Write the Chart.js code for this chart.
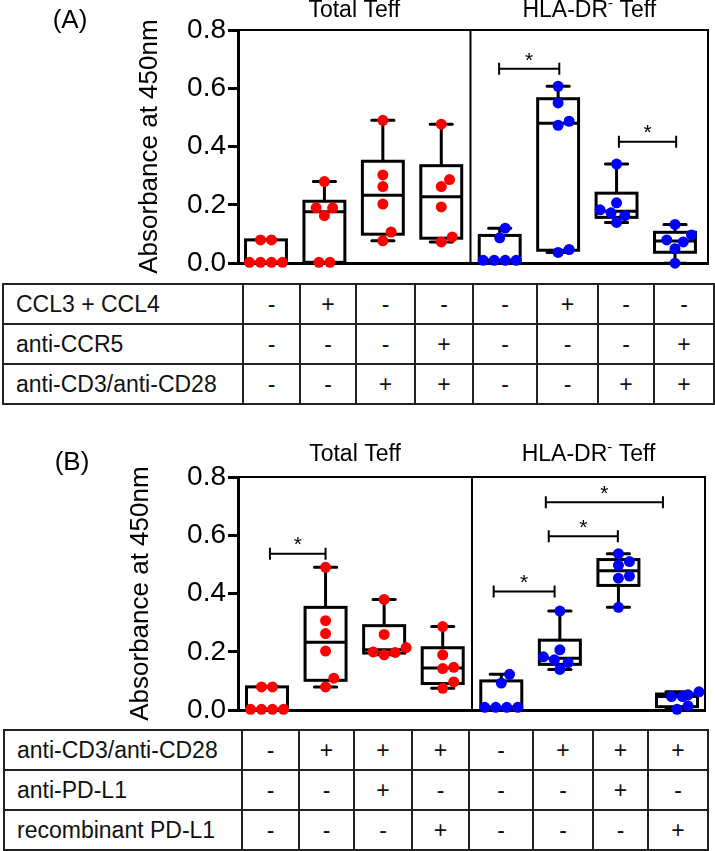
<!DOCTYPE html>
<html>
<head>
<meta charset="utf-8">
<script src="https://cdn.jsdelivr.net/npm/chart.js@4.4.0/dist/chart.umd.min.js"></script>
<style>
  body { margin: 0; background: #fff; width: 715px; height: 851px; position: relative; overflow: hidden;
         font-family: "Liberation Sans", Arial, sans-serif; }
  canvas { position: absolute; left: 0; }
  table { position: absolute; border-collapse: collapse; table-layout: fixed; font-size: 23px; color: #111; }
  td { border: 2px solid #222; height: 38px; padding: 0; text-align: center; }
  td.lab { text-align: left; padding-left: 12px; white-space: nowrap; }
</style>
</head>
<body>
<canvas id="chartA" width="715" height="282" style="top:0"></canvas>
<table id="tableA" style="left:2px;top:283px"></table>
<canvas id="chartB" width="715" height="289" style="top:440px"></canvas>
<table id="tableB" style="left:3px;top:729px"></table>
<script>
// Axis and group labels
const yTitle = 'Absorbance at 450nm';
const yTicks = [0, 0.2, 0.4, 0.6, 0.8];
const cellGroups = ['Total Teff', 'HLA-DR'];

// Panel A: absorbance per well, 8 conditions x 6 donors
const conditionsA = ['CCL3 + CCL4', 'anti-CCR5', 'anti-CD3/anti-CD28'];
const signsA = [
  ['-', '+', '-', '-', '-', '+', '-', '-'],
  ['-', '-', '-', '+', '-', '-', '-', '+'],
  ['-', '-', '+', '+', '-', '-', '+', '+']
];
const valuesA = [
  [0.08, 0.08, 0.003, 0.003, 0.003, 0.003],
  [0.28, 0.19, 0.19, 0.163, 0.003, 0.003],
  [0.49, 0.303, 0.263, 0.203, 0.107, 0.077],
  [0.477, 0.287, 0.263, 0.193, 0.09, 0.073],
  [0.12, 0.087, 0.01, 0.01, 0.01, 0.01],
  [0.607, 0.55, 0.487, 0.473, 0.047, 0.037],
  [0.34, 0.207, 0.183, 0.173, 0.163, 0.14],
  [0.133, 0.097, 0.08, 0.073, 0.05, 0.0]
];
// significance bars: [from, to, height]
const sigA = [[4.99, 6.02, 0.667], [7.04, 8.02, 0.417]];

// Panel B
const conditionsB = ['anti-CD3/anti-CD28', 'anti-PD-L1', 'recombinant PD-L1'];
const signsB = [
  ['-', '+', '+', '+', '-', '+', '+', '+'],
  ['-', '-', '+', '-', '-', '-', '+', '-'],
  ['-', '-', '-', '+', '-', '-', '-', '+']
];
const valuesB = [
  [0.08, 0.08, 0.003, 0.003, 0.003, 0.003],
  [0.49, 0.307, 0.263, 0.203, 0.11, 0.08],
  [0.38, 0.26, 0.215, 0.2, 0.198, 0.19],
  [0.287, 0.19, 0.147, 0.143, 0.097, 0.075],
  [0.123, 0.093, 0.01, 0.01, 0.01, 0.01],
  [0.34, 0.207, 0.183, 0.173, 0.163, 0.14],
  [0.537, 0.51, 0.497, 0.46, 0.453, 0.353],
  [0.063, 0.053, 0.047, 0.047, 0.015, 0.003]
];
const sigB = [[1.05, 2.0, 0.537], [4.87, 5.91, 0.407], [5.81, 6.99, 0.597], [5.76, 7.76, 0.713]];

const FONT = '"Liberation Sans", Arial, sans-serif';
const dotRadius = 5.5;
const boxWidth = 0.7;
const capWidth = 0.38;

// quartiles the GraphPad way (n+1 positions)
function quantile(sorted, p) {
  const n = sorted.length;
  const pos = p * (n + 1);
  if (pos <= 1) return sorted[0];
  if (pos >= n) return sorted[n - 1];
  const lo = Math.floor(pos);
  return sorted[lo - 1] + (pos - lo) * (sorted[lo] - sorted[lo - 1]);
}

// spread points sideways so they don't overlap (simple beeswarm)
function swarmOffsets(vals, yScale, pxPerUnit) {
  const step = dotRadius / 2;
  const placed = [];
  const offs = vals.map(() => 0);
  const order = vals.map((v, i) => i).sort((a, b) => vals[a] - vals[b]);
  order.forEach(i => {
    const py = yScale.getPixelForValue(vals[i]);
    for (let k = 0; k < 60; k++) {
      const c = (k % 2 ? 1 : -1) * Math.ceil(k / 2) * step;
      if (placed.every(p => Math.hypot(p.x - c, p.y - py) >= 2 * dotRadius - 0.5)) {
        placed.push({ x: c, y: py, i });
        offs[i] = c;
        break;
      }
    }
  });
  // centre rows of equal values
  const rows = {};
  placed.forEach(p => {
    const key = Math.round(p.y);
    (rows[key] = rows[key] || []).push(p);
  });
  Object.values(rows).forEach(row => {
    if (row.length < 2) return;
    const m = row.reduce((s, p) => s + p.x, 0) / row.length;
    row.forEach(p => { offs[p.i] = p.x - m; });
  });
  return offs.map(o => o / pxPerUnit);
}

const boxPlugin = {
  id: 'boxes',
  beforeDatasetsDraw(chart, args, opts) {
    const { ctx, chartArea: a, scales: { x, y } } = chart;
    ctx.save();
    ctx.strokeStyle = '#000';
    ctx.lineWidth = 2;
    ctx.beginPath();
    ctx.moveTo(a.left, a.top);
    ctx.lineTo(a.right, a.top);
    ctx.lineTo(a.right, a.bottom);
    const dx = x.getPixelForValue(4.5);
    ctx.moveTo(dx, a.top);
    ctx.lineTo(dx, a.bottom);
    ctx.stroke();

    ctx.lineWidth = 3;
    opts.values.forEach((vals, i) => {
      const s = [...vals].sort((p, q) => p - q);
      const q1 = y.getPixelForValue(quantile(s, 0.25));
      const med = y.getPixelForValue(quantile(s, 0.5));
      const q3 = y.getPixelForValue(quantile(s, 0.75));
      const lo = y.getPixelForValue(s[0]);
      const hi = y.getPixelForValue(s[s.length - 1]);
      const cx = x.getPixelForValue(i + 1);
      const hw = x.getPixelForValue(i + 1 + boxWidth / 2) - cx;
      const cw = x.getPixelForValue(i + 1 + capWidth / 2) - cx;
      ctx.lineCap = 'round';
      ctx.beginPath();
      ctx.moveTo(cx, q3); ctx.lineTo(cx, hi);
      ctx.moveTo(cx - cw, hi); ctx.lineTo(cx + cw, hi);
      ctx.moveTo(cx, q1); ctx.lineTo(cx, lo);
      ctx.moveTo(cx - cw, lo); ctx.lineTo(cx + cw, lo);
      ctx.stroke();
      ctx.lineCap = 'butt';
      ctx.fillStyle = '#fff';
      ctx.fillRect(cx - hw, q3, hw * 2, q1 - q3);
      ctx.strokeRect(cx - hw, q3, hw * 2, q1 - q3);
      ctx.beginPath();
      ctx.moveTo(cx - hw, med); ctx.lineTo(cx + hw, med);
      ctx.stroke();
    });
    ctx.restore();
  },
  afterDatasetsDraw(chart, args, opts) {
    const { ctx, chartArea: a, scales: { x, y } } = chart;
    ctx.save();
    ctx.strokeStyle = '#000';
    ctx.fillStyle = '#000';
    ctx.lineWidth = 2;
    opts.sig.forEach(([from, to, v]) => {
      const x1 = x.getPixelForValue(from), x2 = x.getPixelForValue(to), py = y.getPixelForValue(v);
      ctx.beginPath();
      ctx.moveTo(x1, py); ctx.lineTo(x2, py);
      ctx.moveTo(x1, py - 6); ctx.lineTo(x1, py + 6);
      ctx.moveTo(x2, py - 6); ctx.lineTo(x2, py + 6);
      ctx.stroke();
      ctx.font = `21px ${FONT}`;
      ctx.textAlign = 'center';
      ctx.textBaseline = 'middle';
      ctx.fillText('*', (x1 + x2) / 2, py - 8);
    });

    // group headers
    const hy = a.top - opts.headerGap;
    const leftMid = (x.getPixelForValue(x.min) + x.getPixelForValue(4.5)) / 2;
    const rightMid = (x.getPixelForValue(4.5) + x.getPixelForValue(x.max)) / 2;
    ctx.font = `23px ${FONT}`;
    ctx.textBaseline = 'middle';
    ctx.textAlign = 'center';
    ctx.fillText(cellGroups[0], leftMid, hy);
    const w1 = ctx.measureText(cellGroups[1]).width;
    const w3 = ctx.measureText(' Teff').width;
    ctx.font = `15px ${FONT}`;
    const w2 = ctx.measureText('-').width;
    let sx = rightMid - (w1 + w2 + w3) / 2;
    ctx.textAlign = 'left';
    ctx.font = `23px ${FONT}`;
    ctx.fillText(cellGroups[1], sx, hy);
    ctx.font = `15px ${FONT}`;
    ctx.fillText('-', sx + w1, hy - 7);
    ctx.font = `23px ${FONT}`;
    ctx.fillText(' Teff', sx + w1 + w2, hy);

    // panel letter
    ctx.font = `26px ${FONT}`;
    ctx.textAlign = 'center';
    ctx.fillText(opts.label, opts.labelX, opts.labelY);
    ctx.restore();
  }
};

function pointsFor(values, from, to) {
  const pts = [];
  for (let g = from; g < to; g++) {
    values[g].forEach(v => pts.push({ x: g + 1, y: v }));
  }
  return pts;
}

function makePanel(id, values, sig, cfg) {
  const ctx = document.getElementById(id).getContext('2d');
  const chart = new Chart(ctx, {
    type: 'scatter',
    data: {
      datasets: [
        { data: pointsFor(values, 0, 4), backgroundColor: '#ff0000', pointRadius: dotRadius, pointBorderWidth: 0, clip: false },
        { data: pointsFor(values, 4, 8), backgroundColor: '#0000ff', pointRadius: dotRadius, pointBorderWidth: 0, clip: false }
      ]
    },
    options: {
      responsive: false,
      animation: false,
      layout: { padding: cfg.padding },
      plugins: {
        legend: { display: false },
        tooltip: { enabled: false },
        boxes: { values, sig, headerGap: cfg.headerGap, label: cfg.label, labelX: cfg.labelX, labelY: cfg.labelY }
      },
      scales: {
        x: {
          type: 'linear', min: cfg.xMin, max: cfg.xMax,
          grid: { display: false, drawTicks: false },
          ticks: { display: false },
          border: { display: true, width: 3, color: '#000' },
          afterFit: s => { s.height = 0; }
        },
        y: {
          min: 0, max: 0.8,
          afterBuildTicks: s => { s.ticks = yTicks.map(v => ({ value: v })); },
          grid: { drawOnChartArea: false, drawTicks: true, tickLength: 10, lineWidth: 3, color: '#000' },
          border: { display: true, width: 3, color: '#000' },
          ticks: { color: '#000', padding: 2, font: { size: 28, family: FONT }, callback: v => v.toFixed(1) },
          title: { display: true, text: yTitle, color: '#000', padding: 0, font: { size: 26, family: FONT } },
          afterFit: s => { s.width = cfg.yWidth; }
        }
      }
    },
    plugins: [boxPlugin]
  });

  // jitter points inside each group
  const x = chart.scales.x, y = chart.scales.y;
  const pxPerUnit = x.getPixelForValue(2) - x.getPixelForValue(1);
  [0, 1].forEach(d => {
    const pts = [];
    for (let g = d * 4; g < d * 4 + 4; g++) {
      const offs = swarmOffsets(values[g], y, pxPerUnit);
      values[g].forEach((v, k) => pts.push({ x: g + 1 + offs[k], y: v }));
    }
    chart.data.datasets[d].data = pts;
  });
  chart.update('none');
  return chart;
}

function buildTable(id, conditions, signs, widths) {
  const table = document.getElementById(id);
  table.style.width = widths.reduce((s, w) => s + w, 0) + 'px';
  table.innerHTML = `<colgroup>${widths.map(w => `<col style="width:${w}px">`).join('')}</colgroup>` +
    conditions.map((c, r) => `<tr><td class="lab">${c}</td>${signs[r].map(s => `<td>${s}</td>`).join('')}</tr>`).join('');
}

makePanel('chartA', valuesA, sigA, {
  padding: { left: 134, right: 7, top: 30, bottom: 12 }, yWidth: 104,
  xMin: 0.521, xMax: 8.565, headerGap: 19, label: '(A)', labelX: 70, labelY: 21
});
makePanel('chartB', valuesB, sigB, {
  padding: { left: 125, right: 10, top: 37, bottom: 12 }, yWidth: 113,
  xMin: 0.505, xMax: 8.478, headerGap: 22, label: '(B)', labelX: 72, labelY: 23
});

buildTable('tableA', conditionsA, signsA, [240, 57, 56, 59, 58, 64, 61, 56, 60]);
buildTable('tableB', conditionsB, signsB, [238, 57, 55, 58, 57, 64, 60, 55, 60]);
</script>
</body>
</html>
